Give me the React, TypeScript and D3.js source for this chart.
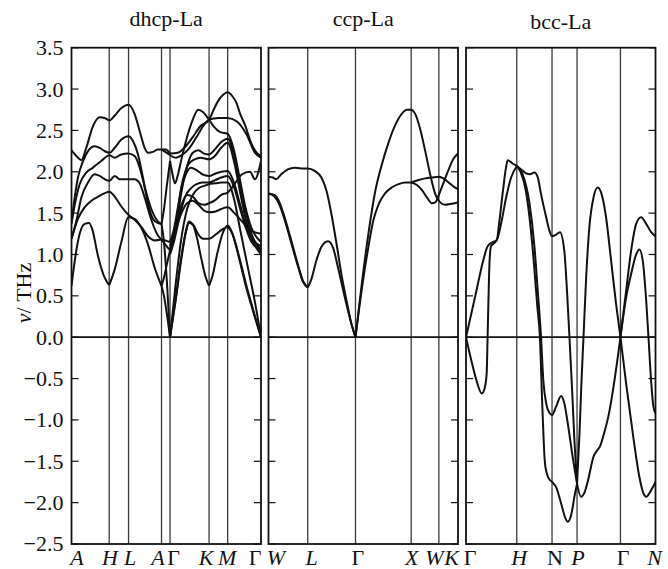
import React from "react";
import * as d3 from "d3";

type Pt = [number, number];

// ---------- data ----------
const yTickValues = [3.5, 3.0, 2.5, 2.0, 1.5, 1.0, 0.5, 0.0, -0.5, -1.0, -1.5, -2.0, -2.5];
const panelTitles = ["dhcp-La", "ccp-La", "bcc-La"];

const dhcpTicks = [0, 19.9, 30.1, 47.5, 52.0, 72.6, 82.4, 100];
const dhcpLabels = ["A", "H", "L", "A", "Γ", "K", "M", "Γ"];
const ccpTicks = [0, 20.7, 45.9, 75.3, 89.9, 100];
const ccpLabels = ["W", "L", "Γ", "X", "W", "K"];
const bccTicks = [0, 26.8, 45.4, 58.6, 81.5, 100];
const bccLabels = ["Γ", "H", "N", "P", "Γ", "N"];

const dhcpBranches: Pt[][] = [
  // A - H - L - A
  [[0,2.26],[2.6,2.19],[5.2,2.14],[7.8,2.29],[11.3,2.55],[14.9,2.66],[17.5,2.65],[20.0,2.62],[22.8,2.68],[26.3,2.77],[30.0,2.81],[33.3,2.70],[36.0,2.49],[38.6,2.29],[40.4,2.23],[43.0,2.24],[45.6,2.27],[47.5,2.27]],
  [[0,1.39],[1.7,1.69],[3.4,1.93],[6.1,2.13],[8.7,2.25],[12.2,2.31],[14.9,2.29],[17.5,2.25],[20.0,2.23],[22.8,2.29],[26.3,2.39],[30.0,2.43],[32.5,2.37],[35.1,2.21],[37.7,1.93],[40.4,1.61],[43.0,1.43],[45.6,1.38],[47.5,1.37]],
  [[0,1.37],[1.7,1.6],[4.3,1.85],[7.8,1.99],[11.3,2.05],[15.7,2.13],[20.0,2.20],[22.8,2.17],[26.3,2.21],[30.0,2.22],[33.3,2.19],[36.0,2.05],[38.6,1.82],[42.1,1.55],[45.6,1.40],[47.5,1.37]],
  [[0,1.19],[2.6,1.41],[5.2,1.69],[8.7,1.87],[12.2,1.97],[14.9,1.95],[17.5,1.91],[20.0,1.89],[22.8,1.95],[25.4,1.91],[30.0,1.91],[33.3,1.91],[36.0,1.86],[38.6,1.69],[42.1,1.42],[45.6,1.23],[47.5,1.18]],
  [[0,1.19],[3.4,1.43],[6.9,1.57],[10.5,1.65],[14.9,1.71],[20.0,1.76],[22.8,1.70],[26.3,1.58],[30.0,1.48],[33.3,1.42],[36.9,1.33],[40.4,1.22],[43.9,1.17],[47.5,1.18]],
  [[0,0.62],[1.7,0.92],[4.3,1.25],[7.0,1.37],[9.3,1.38],[11.0,1.3],[14.0,0.98],[17.5,0.72],[19.9,0.63]],
  [[19.9,0.63],[22.8,0.82],[26.3,1.15],[30.0,1.45],[33.3,1.43],[36.9,1.32],[40.4,1.12],[43.9,0.84],[47.5,0.62]],
  // A - Γ
  [[47.5,0.62],[48.8,0.5],[50.4,0.27],[52,0]],
  [[47.5,0.62],[49,0.74],[50.5,0.9],[52,1.05]],
  [[47.5,1.18],[49.5,1.12],[52,1.05]],
  [[47.5,1.18],[49.5,1.17],[52,1.15]],
  [[47.5,1.37],[48.8,1.15],[50.4,0.65],[52,0]],
  [[47.5,1.37],[48.8,1.55],[50.4,1.85],[52,2.13]],
  [[47.5,2.27],[49.5,2.24],[52,2.20]],
  [[47.5,2.27],[49.8,2.27],[52,2.22]],
  // Γ - K - M - Γ
  [[52,2.13],[53.3,1.97],[54.6,1.86],[56,1.95],[58,2.15],[61,2.42],[64,2.63],[66.9,2.75],[69.5,2.72],[72.6,2.63],[75,2.55],[78.5,2.48],[82.4,2.46],[85.5,2.28],[88.5,1.95],[91.5,1.6],[95,1.32],[100,1.15]],
  [[52,2.22],[56,2.23],[60,2.3],[64,2.42],[68,2.55],[72.6,2.63],[75,2.75],[77.5,2.86],[80,2.93],[82.4,2.96],[85,2.91],[87.1,2.83],[89,2.70],[91.5,2.57],[95.1,2.33],[97.7,2.23],[100,2.19]],
  [[52,2.20],[55,2.17],[58,2.2],[62,2.28],[66,2.42],[70,2.57],[72.6,2.63],[77.5,2.65],[82.4,2.65],[87.1,2.61],[92.4,2.45],[96.8,2.23],[100,2.17]],
  [[52,1.05],[54,1.18],[56,1.45],[58,1.75],[60,1.98],[62,2.14],[64,2.23],[67,2.26],[70,2.22],[72.6,2.21],[76,2.28],[79,2.36],[82.4,2.40],[86,2.18],[89,1.85],[92,1.5],[95,1.25],[100,1.05]],
  [[52,1.05],[54,1.22],[56,1.52],[58,1.82],[60,2.0],[62,2.1],[65,2.15],[68,2.17],[72.6,2.15],[76,2.2],[79,2.29],[82.4,2.35],[86,2.1],[89,1.75],[92,1.42],[95,1.2],[100,1.0]],
  [[52,1.15],[54,1.3],[56,1.55],[58,1.8],[60,1.95],[63,2.05],[66,2.02],[69,1.97],[72.6,1.95],[76,1.98],[79,2.0],[82.4,2.01],[86,1.85],[89,1.6],[92,1.35],[95,1.2],[100,1.1]],
  [[52,1.0],[54,1.15],[56,1.35],[58,1.55],[60,1.7],[63,1.8],[66,1.85],[69,1.87],[72.6,1.87],[76,1.9],[79,1.93],[82.4,1.95],[86,1.8],[89,1.55],[92,1.32],[95,1.15],[100,1.05]],
  [[52,1.05],[55,1.35],[58,1.6],[61,1.72],[64,1.7],[67,1.62],[70,1.6],[72.6,1.62],[76,1.66],[79,1.72],[82.4,1.75],[86,1.85],[90,1.97],[94.2,2.0],[96.8,1.91],[100,2.13]],
  [[52,1.1],[55,1.3],[58,1.5],[61,1.62],[64,1.65],[67,1.6],[70,1.53],[72.6,1.51],[76,1.52],[79,1.55],[82.4,1.57],[86,1.5],[90,1.4],[94,1.3],[100,1.25]],
  [[52,0],[55,0.65],[58,1.2],[61,1.55],[64,1.72],[67,1.8],[70,1.83],[72.6,1.85],[76,1.86],[79,1.87],[82.4,1.87],[86,1.65],[89,1.3],[93,0.85],[97,0.4],[100,0]],
  [[52,0],[55,0.45],[58,0.95],[60.5,1.28],[62,1.38],[64,1.36],[66,1.22],[68.5,0.95],[70.5,0.75],[72.6,0.62]],
  [[72.6,0.62],[74.5,0.75],[77,1.02],[80,1.27],[82.4,1.35],[85,1.25],[88.5,0.97],[92,0.65],[96,0.32],[100,0]],
  [[52,0],[55,0.47],[58,0.98],[60.5,1.3],[62,1.40],[64.5,1.35],[67,1.24],[69.5,1.19],[72.6,1.19],[76,1.24],[80,1.31],[82.4,1.33],[85,1.24],[88.5,0.95],[92,0.62],[96,0.3],[100,0]],
];

const ccpBranches: Pt[][] = [
  [[0,1.94],[2.3,1.93],[4.1,1.91],[6.7,1.97],[10.2,2.03],[13.8,2.05],[17.3,2.04],[20.7,2.04],[24.4,2.01],[27.9,1.93],[30.6,1.77],[33.2,1.49],[35.9,1.13],[38.5,0.76],[41.2,0.44],[43.8,0.16],[45.9,0]],
  [[0,1.73],[3.2,1.72],[5.8,1.63],[8.5,1.45],[12.0,1.17],[15.5,0.88],[18.2,0.68],[20.7,0.60]],
  [[0,1.74],[3.2,1.70],[5.8,1.60],[8.5,1.42],[12.0,1.14],[15.5,0.86],[18.2,0.67],[20.7,0.60]],
  [[20.7,0.60],[22.6,0.70],[25.3,0.93],[27.9,1.09],[31.4,1.16],[34.1,1.08],[36.7,0.84],[40.3,0.48],[43.5,0.18],[45.9,0]],
  [[45.9,0],[49.1,0.62],[52.7,1.25],[56.2,1.75],[59.7,2.08],[63.3,2.35],[66.8,2.56],[70.3,2.70],[73.0,2.75],[75.3,2.75],[77.4,2.70],[80.0,2.52],[82.7,2.25],[85.3,1.97],[88.0,1.73],[90.6,1.63],[93.3,1.60],[95.9,1.61],[100,1.63]],
  [[45.9,0],[49.1,0.56],[52.7,1.09],[55.3,1.41],[58.0,1.60],[61.5,1.74],[65.0,1.81],[68.6,1.85],[72.1,1.87],[75.3,1.87]],
  [[75.3,1.87],[78.3,1.84],[80.9,1.78],[83.6,1.69],[86.2,1.62],[88.0,1.63],[89.9,1.72],[92.4,1.87],[95.1,2.03],[97.7,2.16],[100,2.22]],
  [[75.3,1.87],[79.2,1.90],[82.7,1.92],[86.2,1.93],[89.9,1.94],[92.4,1.92],[95.1,1.87],[97.7,1.82],[100,1.79]],
];

const bccBranches: Pt[][] = [
  // Γ - H
  [[0,0],[5.3,0.54],[8.8,0.90],[11.4,1.10],[14.1,1.15],[16.2,1.17],[17.6,1.4],[19.4,1.75],[21.1,2.05],[22.0,2.14],[24.6,2.10],[26.8,2.07]],
  [[0,0],[3,-0.3],[5.5,-0.52],[8.3,-0.68],[9.8,-0.62],[10.9,-0.44],[11.4,0],[11.8,0.4],[12.4,0.9],[13.2,1.10],[15.0,1.14],[16.7,1.2],[18.5,1.37],[21.1,1.68],[23.8,1.93],[26.8,2.07]],
  // H - N - P
  [[26.8,2.07],[29.0,2.03],[31.7,1.98],[33.8,1.97],[36.1,1.99],[37.9,1.93],[39.6,1.73],[42.3,1.45],[44.0,1.29],[45.4,1.22],[47.5,1.24],[49.6,1.27],[51.9,1.04],[53.3,0.56],[54.6,0],[56.0,-0.64],[57.2,-1.24],[58.6,-1.77]],
  [[26.8,2.07],[29.9,1.97],[33.5,1.62],[36.1,1.1],[37.9,0.55],[39.6,0],[40.8,-0.52],[42.3,-0.8],[43.9,-0.91],[45.4,-0.94],[47.5,-0.84],[50.2,-0.71],[51.9,-0.80],[53.7,-1.04],[56.3,-1.45],[58.6,-1.77]],
  [[26.8,2.07],[28.8,2.0],[31.5,1.78],[34.0,1.35],[36.0,0.85],[37.6,0.38],[39.0,0],[40.3,-0.85],[41.7,-1.53],[43.5,-1.70],[45.4,-1.75],[47.5,-1.81],[50.2,-2.01],[52.5,-2.19],[53.7,-2.23],[55.5,-2.15],[57.2,-1.93],[58.6,-1.77]],
  // P - Γ
  [[58.6,-1.77],[60.7,-1.93],[62.5,-1.88],[64.5,-1.72],[67.2,-1.45],[69.5,-1.36],[70.7,-1.32],[73.0,-1.15],[75.1,-0.96],[78.5,-0.5],[81.5,0]],
  [[58.6,-1.77],[59.9,-1.16],[60.9,-0.56],[62.0,0],[63.4,0.72],[65.1,1.33],[67.3,1.69],[69.5,1.81],[71.8,1.71],[73.9,1.45],[76.6,0.92],[79.2,0.40],[81.5,0]],
  // Γ - N
  [[81.5,0],[84.5,0.56],[87.1,1.04],[89.8,1.37],[92.4,1.45],[95.1,1.37],[97.7,1.27],[100,1.22]],
  [[81.5,0],[84.5,0.48],[87.1,0.76],[89.8,1.0],[91.5,1.06],[93.3,0.92],[95.1,0.44],[96.3,0],[97.7,-0.53],[98.9,-0.84],[100,-0.92]],
  [[81.5,0],[84.5,-0.56],[88.0,-1.16],[91.5,-1.69],[93.5,-1.88],[95.1,-1.93],[97.7,-1.85],[100,-1.75]],
];

// ---------- layout / style ----------
const WIDTH = 668;
const HEIGHT = 569;
const panelLefts = [71.5, 268.5, 466];
const panelW = 189.5;
const plotTop = 47.7;
const plotBottom = 544;
const titleBaselines = [26, 26, 28.5];
const labelDx = [
  [5.5, 0.7, 1.5, -3.5, 3.5, -3, -0.5, -6],
  [7.5, 4, 2.3, 0.5, -4.5, -6.5],
  [4, 2.5, 3, 1, 2.7, -1],
];
const labelItalic = [
  [true, true, true, true, false, true, true, false],
  [true, true, false, true, true, true],
  [false, true, false, true, false, true],
];
const FONT = "'Liberation Serif', 'Times New Roman', Times, serif";

export default function App() {
  const y = d3.scaleLinear().domain([-2.5, 3.5]).range([plotBottom, plotTop]);
  const panels = [
    { ticks: dhcpTicks, labels: dhcpLabels, branches: dhcpBranches },
    { ticks: ccpTicks, labels: ccpLabels, branches: ccpBranches },
    { ticks: bccTicks, labels: bccLabels, branches: bccBranches },
  ];
  const fmt = (v: number) => (v < 0 ? "\u2212" + Math.abs(v).toFixed(1) : v.toFixed(1));

  return (
    <svg
      width={WIDTH}
      height={HEIGHT}
      viewBox={`0 0 ${WIDTH} ${HEIGHT}`}
      style={{ position: "absolute", left: 0, top: 0, background: "#fff" }}
      fontFamily={FONT}
    >
      <rect x={0} y={0} width={WIDTH} height={HEIGHT} fill="#fff" />
      <defs>
        {panels.map((p, i) => (
          <clipPath id={`clip${i}`} key={i}>
            <rect x={panelLefts[i]} y={plotTop} width={panelW} height={plotBottom - plotTop} />
          </clipPath>
        ))}
      </defs>

      {yTickValues.map((v) => (
        <text key={v} x={63.5} y={y(v)} dy="0.34em" textAnchor="end" fontSize={22} fill="#111">
          {fmt(v)}
        </text>
      ))}

      <text transform={`translate(30.5, 293) rotate(-90)`} textAnchor="middle" fontSize={22} fill="#111">
        <tspan fontStyle="italic">ν</tspan>
        <tspan>/ THz</tspan>
      </text>

      {panels.map((p, i) => {
        const x = d3.scaleLinear().domain([0, 100]).range([panelLefts[i], panelLefts[i] + panelW]);
        const line = d3
          .line<Pt>()
          .x((d) => x(d[0]))
          .y((d) => y(d[1]))
          .curve(d3.curveMonotoneX);
        const x0 = panelLefts[i];
        const x1 = panelLefts[i] + panelW;
        return (
          <g key={i}>
            <text x={(x0 + x1) / 2} y={titleBaselines[i]} textAnchor="middle" fontSize={22} fill="#111">
              {panelTitles[i]}
            </text>
            {p.ticks.slice(1, -1).map((t, j) => (
              <line key={j} x1={x(t)} x2={x(t)} y1={plotTop} y2={plotBottom} stroke="#3a3a3a" strokeWidth={1.3} />
            ))}
            {yTickValues.map((v) => (
              <g key={v}>
                <line x1={x0} x2={x0 + 7} y1={y(v)} y2={y(v)} stroke="#111" strokeWidth={1.2} />
                <line x1={x1 - 7} x2={x1} y1={y(v)} y2={y(v)} stroke="#111" strokeWidth={1.2} />
              </g>
            ))}
            <line x1={x0} x2={x1} y1={y(0)} y2={y(0)} stroke="#111" strokeWidth={1.7} />
            <g clipPath={`url(#clip${i})`}>
              {p.branches.map((b, j) => (
                <path key={j} d={line(b) || ""} fill="none" stroke="#111" strokeWidth={2} strokeLinejoin="round" />
              ))}
            </g>
            <rect x={x0} y={plotTop} width={panelW} height={plotBottom - plotTop} fill="none" stroke="#111" strokeWidth={1.8} />
            {p.labels.map((lab, j) => (
              <text
                key={j}
                x={x(p.ticks[j]) + labelDx[i][j]}
                y={565}
                textAnchor="middle"
                fontSize={22}
                fontStyle={labelItalic[i][j] ? "italic" : "normal"}
                fill="#111"
              >
                {lab}
              </text>
            ))}
          </g>
        );
      })}
    </svg>
  );
}
